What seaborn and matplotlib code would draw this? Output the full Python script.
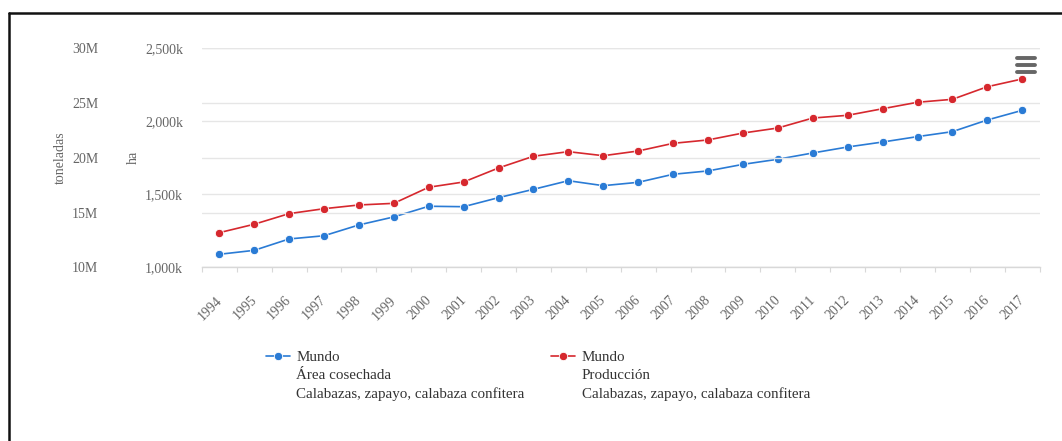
import numpy as np
import pandas as pd
import seaborn as sns
import matplotlib.pyplot as plt
from matplotlib.lines import Line2D
from matplotlib.ticker import FuncFormatter, FixedLocator
from matplotlib.transforms import ScaledTranslation

years = [str(y) for y in range(1994, 2018)]
# area harvested (ha)
area_ha = [1089000, 1116000, 1194000, 1216000, 1290000, 1345000, 1418000, 1415000,
           1477000, 1534000, 1593000, 1559000, 1582000, 1637000, 1660000, 1705000,
           1740000, 1783000, 1824000, 1858000, 1895000, 1929000, 2009000, 2075000]
# production (toneladas)
prod_t = [13.16e6, 13.93e6, 14.90e6, 15.35e6, 15.69e6, 15.84e6, 17.31e6, 17.79e6,
          19.07e6, 20.14e6, 20.56e6, 20.19e6, 20.62e6, 21.32e6, 21.63e6, 22.26e6,
          22.72e6, 23.63e6, 23.88e6, 24.48e6, 25.07e6, 25.34e6, 26.49e6, 27.20e6]

label_area = "Mundo\nÁrea cosechada\nCalabazas, zapayo, calabaza confitera"
label_prod = "Mundo\nProducción\nCalabazas, zapayo, calabaza confitera"

blue = "#2a7bd5"
red = "#d6282e"
grey = "#666666"

df = pd.DataFrame({"year": years, "area": area_ha, "prod": prod_t})

sns.set_theme(style="white")
plt.rcParams['font.family'] = ['Liberation Serif', 'DejaVu Serif']

fig = plt.figure(figsize=(10.62, 4.41), dpi=100)
ax = fig.add_axes([0.190, 0.3939, 0.789, 0.4966])
ax2 = ax.twinx()

line_kws = dict(marker="o", markersize=6, markeredgecolor="white", markeredgewidth=0.6,
                linewidth=1.2)
sns.lineplot(data=df, x="year", y="area", ax=ax, color=blue, label=label_area,
             legend=False, **line_kws)
sns.lineplot(data=df, x="year", y="prod", ax=ax2, color=red, label=label_prod,
             legend=False, **line_kws)

ax.set_xlim(-0.5, len(years) - 0.5)
ax.set_ylim(1000000, 2500000)
ax2.set_ylim(10e6, 30e6)
ax.set_yticks([1000000, 1500000, 2000000, 2500000])
ax2.set_yticks([10e6, 15e6, 20e6, 25e6, 30e6])
ax.yaxis.set_major_formatter(FuncFormatter(lambda v, p: f"{v/1000:,.0f}k"))
ax2.yaxis.set_major_formatter(FuncFormatter(lambda v, p: f"{v/1e6:.0f}M"))

# toneladas axis sits to the left of the ha axis
ax2.yaxis.tick_left()
ax2.yaxis.set_label_position("left")

for a in (ax, ax2):
    for s in ("top", "right", "left"):
        a.spines[s].set_visible(False)
    a.grid(axis="y", color="#e6e6e6", linewidth=1.0)
    a.grid(axis="x", visible=False)
ax2.spines["bottom"].set_visible(False)
ax.spines["bottom"].set_color("#d8d8d8")
ax.spines["bottom"].set_linewidth(1.0)

ax.tick_params(axis="y", length=0, pad=13.5, labelsize=10, labelcolor=grey)
ax2.tick_params(axis="y", length=0, pad=74.5, labelsize=10, labelcolor=grey)

# x ticks: labels at categories, tick marks between categories
ax.set_xticks(range(len(years)))
ax.set_xticklabels(years, rotation=45, ha="right", rotation_mode="default")
ax.tick_params(axis="x", which="major", length=0, pad=19, labelsize=10, labelcolor=grey)
shift = ScaledTranslation(0.05, 0, fig.dpi_scale_trans)
for lbl in ax.get_xticklabels():
    lbl.set_transform(lbl.get_transform() + shift)
ax.xaxis.set_minor_locator(FixedLocator(np.arange(-0.5, len(years), 1.0)))
ax.tick_params(axis="x", which="minor", length=3.6, width=0.8, color="#d8d8d8",
               direction="out", bottom=True)
ax.set_xlabel("")

ax.set_ylabel("ha", fontsize=10, color=grey)
ax2.set_ylabel("toneladas", fontsize=10, color=grey)
ax.yaxis.set_label_coords(-0.0745, 0.5)
ax2.yaxis.set_label_coords(-0.161, 0.5)

# legend under the chart, marker aligned with first text line
handles = [ax.get_lines()[0], ax2.get_lines()[0]]
leg = fig.legend(handles, [label_area, label_prod], loc="upper left",
                 bbox_to_anchor=(0.2375, 0.235), ncol=2, frameon=False, fontsize=10.8,
                 handlelength=1.6, handletextpad=0.45, columnspacing=1.75,
                 labelcolor="#333333")
for col in leg._legend_handle_box.get_children():
    for hp in col.get_children():
        hp.align = "top"
for t in leg.get_texts():
    t.set_linespacing(1.5)

# export menu icon
for yy in (0.869, 0.853, 0.837):
    fig.add_artist(Line2D([0.958, 0.975], [yy, yy], color="#666666", linewidth=2.8,
                          solid_capstyle="round"))

# frame lines at left and top edges
fig.add_artist(Line2D([0.0085, 0.0085], [0, 0.9705], color="#111111", linewidth=1.8))
fig.add_artist(Line2D([0.0085, 1.0], [0.9705, 0.9705], color="#111111", linewidth=1.8))

fig.savefig("out.png", dpi=100)
